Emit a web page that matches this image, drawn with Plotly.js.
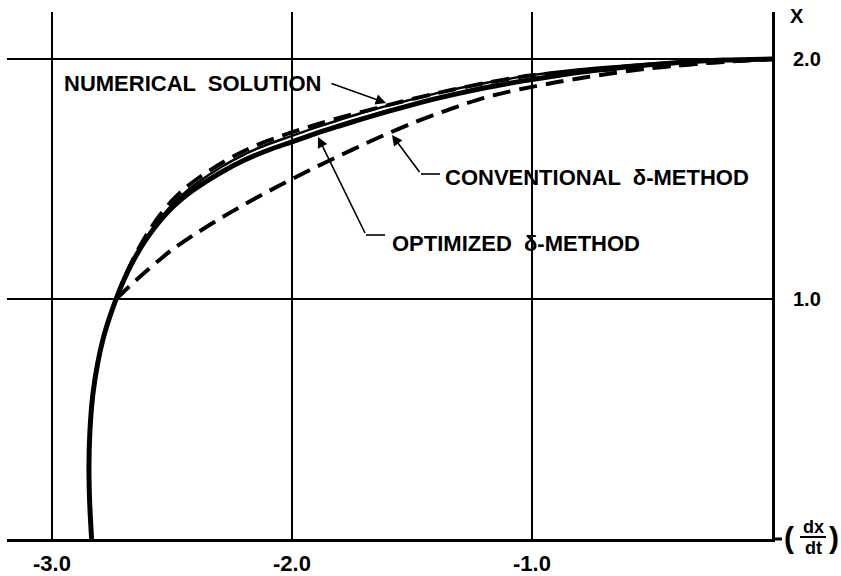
<!DOCTYPE html>
<html>
<head>
<meta charset="utf-8">
<script src="https://cdn.plot.ly/plotly-3.0.1.min.js"></script>
<style>html,body{margin:0;padding:0;background:#fff;}#chart{width:841px;height:576px;}</style>
</head>
<body>
<div id="chart"></div>
<script>
// ---- data ----
const optimizedX = [-2.835, -2.843, -2.846, -2.842, -2.83, -2.81, -2.78, -2.733, -2.7, -2.65, -2.6, -2.55, -2.5, -2.45, -2.4, -2.3, -2.2, -2.1, -2.0, -1.9, -1.8, -1.7, -1.6, -1.5, -1.4, -1.3, -1.2, -1.1, -1.0, -0.8, -0.6, -0.4, -0.2, 0];
const optimizedY = [0, 0.15, 0.3, 0.45, 0.6, 0.73, 0.86, 1.0, 1.08, 1.18, 1.26, 1.325, 1.38, 1.425, 1.462, 1.525, 1.578, 1.62, 1.655, 1.69, 1.722, 1.753, 1.782, 1.809, 1.835, 1.858, 1.879, 1.898, 1.915, 1.945, 1.968, 1.985, 1.996, 2.0];

const numericalX = [-2.835, -2.843, -2.846, -2.842, -2.83, -2.81, -2.78, -2.733, -2.7, -2.65, -2.6, -2.55, -2.5, -2.45, -2.4, -2.3, -2.2, -2.1, -2.0, -1.9, -1.8, -1.7, -1.6, -1.5, -1.4, -1.3, -1.2, -1.1, -1.0, -0.8, -0.6, -0.4, -0.2, 0];
const numericalY = [0, 0.15, 0.3, 0.45, 0.6, 0.73, 0.86, 1.0, 1.08, 1.182, 1.265, 1.333, 1.392, 1.44, 1.48, 1.547, 1.602, 1.645, 1.68, 1.715, 1.747, 1.778, 1.806, 1.832, 1.857, 1.879, 1.899, 1.917, 1.933, 1.957, 1.974, 1.988, 1.997, 2.0];

const upperDashedX = [-2.733, -2.7, -2.65, -2.6, -2.55, -2.5, -2.45, -2.4, -2.3, -2.2, -2.1, -2.0, -1.9, -1.8, -1.7, -1.6, -1.4, -1.2, -1.0, -0.8, -0.6, -0.4, -0.2, 0];
const upperDashedY = [1.0, 1.085, 1.19, 1.278, 1.35, 1.41, 1.458, 1.497, 1.563, 1.617, 1.66, 1.695, 1.727, 1.756, 1.782, 1.808, 1.857, 1.899, 1.932, 1.948, 1.96, 1.974, 1.988, 2.0];

const conventionalX = [-2.733, -2.65, -2.55, -2.5, -2.45, -2.4, -2.3, -2.2, -2.1, -2.0, -1.9, -1.8, -1.7, -1.6, -1.5, -1.4, -1.3, -1.2, -1.1, -1.0, -0.9, -0.8, -0.7, -0.6, -0.5, -0.4, -0.3, -0.2, -0.1, 0];
const conventionalY = [1.0, 1.078, 1.165, 1.205, 1.24, 1.273, 1.335, 1.393, 1.448, 1.5, 1.55, 1.598, 1.645, 1.69, 1.732, 1.77, 1.806, 1.838, 1.863, 1.884, 1.903, 1.92, 1.936, 1.95, 1.962, 1.972, 1.981, 1.989, 1.995, 2.0];

const xTickVals = [-3, -2, -1];
const xTickText = ['-3.0', '-2.0', '-1.0'];
const yTickVals = [1, 2];
const yTickText = ['1.0', '2.0'];

const labelNumerical = 'NUMERICAL  SOLUTION';
const labelConventional = 'CONVENTIONAL  δ-METHOD';
const labelOptimized = 'OPTIMIZED  δ-METHOD';

// ---- layout helpers (pixel -> paper for text placement) ----
const L = 7, R = 69, T = 12, B = 37, W = 841, H = 576;
const PW = W - L - R, PH = H - T - B;
const px = v => (v - L) / PW;
const py = v => (H - B - v) / PH;

const FONT = 'Liberation Sans, Arial, sans-serif';

const traces = [
  {x: conventionalX, y: conventionalY, mode: 'lines', line: {color: '#000', width: 4, dash: '18px,9px', shape: 'spline', smoothing: 0.8}, hoverinfo: 'skip'},
  {x: upperDashedX, y: upperDashedY, mode: 'lines', line: {color: '#000', width: 4, dash: '18px,9px', shape: 'spline', smoothing: 0.8}, hoverinfo: 'skip'},
  {x: numericalX, y: numericalY, mode: 'lines', line: {color: '#000', width: 2.5, shape: 'spline', smoothing: 0.8}, hoverinfo: 'skip'},
  {x: optimizedX, y: optimizedY, mode: 'lines', line: {color: '#000', width: 5, shape: 'spline', smoothing: 0.8}, hoverinfo: 'skip'}
];

const txt = (text, x, y, size, xanchor) => ({
  text: text, xref: 'paper', yref: 'paper', x: px(x), y: py(y), showarrow: false,
  xanchor: xanchor || 'center', yanchor: 'middle',
  font: {family: FONT, size: size, color: '#000', weight: 700}
});

const arrow = (hx, hy, tx, ty) => ({
  text: ' ', xref: 'paper', yref: 'paper', x: px(hx), y: py(hy),
  axref: 'paper', ayref: 'paper', ax: px(tx), ay: py(ty),
  showarrow: true, arrowhead: 2, arrowsize: 1.3, arrowwidth: 1.6, arrowcolor: '#000',
  font: {size: 1}
});

const stub = (x0, x1, y) => ({
  type: 'line', xref: 'paper', yref: 'paper', x0: px(x0), x1: px(x1), y0: py(y), y1: py(y),
  line: {color: '#000', width: 1.6}
});

const layout = {
  width: W, height: H,
  margin: {l: L, r: R, t: T, b: B, pad: 0},
  paper_bgcolor: '#fff', plot_bgcolor: '#fff',
  showlegend: false,
  xaxis: {
    range: [-3.1875, 0], tickvals: xTickVals, ticktext: xTickText,
    showgrid: true, gridcolor: '#000', gridwidth: 1.6, zeroline: false,
    showline: true, linecolor: '#000', linewidth: 3, ticks: '',
    ticklabelstandoff: 3,
    tickfont: {family: FONT, size: 22, color: '#000', weight: 700}
  },
  yaxis: {
    range: [0, 2.196], side: 'right', tickvals: yTickVals, ticktext: yTickText,
    showgrid: true, gridcolor: '#000', gridwidth: 1.6, zeroline: false,
    showline: true, linecolor: '#000', linewidth: 3, ticks: '',
    ticklabelstandoff: 14,
    tickfont: {family: FONT, size: 20, color: '#000', weight: 700}
  },
  annotations: [
    txt(labelNumerical, 62, 84, 22, 'left'),
    arrow(386, 103, 330, 83),
    txt(labelConventional, 443, 177, 22, 'left'),
    arrow(392, 135, 421, 174),
    txt(labelOptimized, 390, 243, 22, 'left'),
    arrow(318, 137, 366, 235),
    txt('X', 797, 16, 20),
    txt('(', 789, 537, 30),
    txt(')', 834, 537, 30),
    txt('dx', 813, 527, 18),
    txt('dt', 813, 548, 18)
  ],
  shapes: [
    stub(421, 440, 174),
    stub(366, 385, 235),
    {type: 'line', xref: 'paper', yref: 'paper', x0: px(800), x1: px(826), y0: py(537), y1: py(537), line: {color: '#000', width: 2}},
    {type: 'line', xref: 'paper', yref: 'paper', x0: px(772), x1: px(782), y0: py(539), y1: py(539), line: {color: '#000', width: 3}}
  ]
};

Plotly.newPlot('chart', traces, layout, {staticPlot: true, displayModeBar: false});
</script>
</body>
</html>
